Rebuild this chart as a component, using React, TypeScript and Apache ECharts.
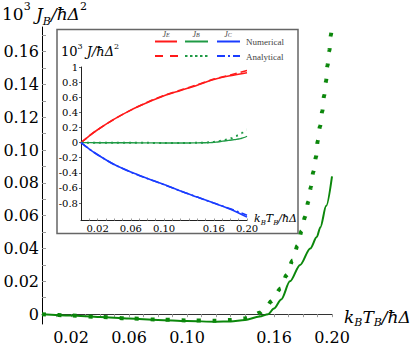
import React, { useEffect, useRef } from 'react';
import * as echarts from 'echarts';

// ---------- data ----------
// main panel: J_B (x: k_B T_B / ħΔ, y: 10^3 J_B / ħΔ^2)
const numBx = [0, 0.02, 0.04, 0.06, 0.08, 0.10, 0.12, 0.13, 0.14, 0.15, 0.156, 0.16, 0.165, 0.171, 0.178, 0.185, 0.1895, 0.192, 0.196, 0.2];
const numBy = [0, -0.0008, -0.0017, -0.0027, -0.0035, -0.0042, -0.0046, -0.0045, -0.0035, -0.0015, 0, 0.0035, 0.009, 0.02, 0.03, 0.04, 0.047, 0.053, 0.066, 0.084];
const anaBx = [0, 0.02, 0.04, 0.06, 0.08, 0.10, 0.12, 0.13, 0.14, 0.145, 0.15, 0.155, 0.158, 0.1648, 0.1687, 0.1729, 0.1763, 0.1791, 0.1814, 0.1837, 0.1855, 0.1871, 0.189, 0.1901, 0.1917, 0.1933, 0.1945, 0.1959, 0.1968, 0.1982, 0.1991, 0.1998];
const anaBy = [0, -0.0008, -0.0017, -0.0026, -0.0033, -0.0038, -0.004, -0.0036, -0.0026, -0.0015, 0.0008, 0.0045, 0.0078, 0.0158, 0.0238, 0.0328, 0.0418, 0.0508, 0.0593, 0.0687, 0.0777, 0.0867, 0.0959, 0.1053, 0.1143, 0.1236, 0.1329, 0.142, 0.1512, 0.1606, 0.1696, 0.174];

// inset: J_E, J_C (x: k_B T_B / ħΔ, y: 10^3 J / ħΔ^2)
const insetX = [0, 0.01, 0.02, 0.04, 0.06, 0.08, 0.10, 0.12, 0.14, 0.16, 0.18, 0.20];
const numE = [0, 0.09, 0.17, 0.31, 0.43, 0.53, 0.62, 0.69, 0.76, 0.835, 0.885, 0.925];
const anaE = [0, 0.09, 0.17, 0.31, 0.43, 0.535, 0.625, 0.695, 0.765, 0.84, 0.895, 0.955];
const numC = [0, -0.085, -0.16, -0.29, -0.39, -0.475, -0.555, -0.64, -0.72, -0.80, -0.88, -0.985];
const anaC = [0, -0.085, -0.16, -0.29, -0.39, -0.475, -0.555, -0.64, -0.72, -0.80, -0.875, -0.96];

// axes ticks / labels
const mainXLabels = [0.02, 0.06, 0.10, 0.16, 0.20];
const mainXTicks = [0.01, 0.02, 0.03, 0.04, 0.05, 0.06, 0.07, 0.08, 0.09, 0.10, 0.11, 0.12, 0.13, 0.14, 0.15, 0.16, 0.17, 0.18, 0.19, 0.20];
const mainYLabels = [0, 0.02, 0.04, 0.06, 0.08, 0.10, 0.12, 0.14, 0.16];
const mainYTicks = [0, 0.01, 0.02, 0.03, 0.04, 0.05, 0.06, 0.07, 0.08, 0.09, 0.10, 0.11, 0.12, 0.13, 0.14, 0.15, 0.16, 0.17];
const insetXLabels = [0.02, 0.06, 0.10, 0.16, 0.20];
const insetXTicks = [0.01, 0.02, 0.03, 0.04, 0.05, 0.06, 0.07, 0.08, 0.09, 0.10, 0.11, 0.12, 0.13, 0.14, 0.15, 0.16, 0.17, 0.18, 0.19, 0.20];
const insetYLabels = [-0.8, -0.6, -0.4, -0.2, 0, 0.2, 0.4, 0.6, 0.8, 1];

const zip = (xs: number[], ys: number[]) => xs.map((x, i) => [x, ys[i]]);

const SERIF = "'DejaVu Serif', serif";
const TIMES = "'Liberation Serif', serif";
const GREEN = '#0b870b';
const IGREEN = '#1f9a45';
const RED = '#ff1a1a';
const BLUE = '#1a3cff';

const fmt2 = (v: number) => (Math.abs(v) < 1e-9 ? '0' : v.toFixed(2));
const fmt1 = (v: number) => (Math.abs(v) < 1e-9 ? '0' : String(Number(v.toFixed(1))));

export default function App() {
  const ref = useRef<HTMLDivElement>(null);
  useEffect(() => {
    if (!ref.current) return;
    const chart = echarts.init(ref.current, undefined, { renderer: 'svg' });
    const mathRich = (size: number, small: number, lh: number) => ({
      n: { fontSize: size, fontFamily: SERIF, lineHeight: lh, verticalAlign: 'middle', fill: '#000' },
      i: { fontSize: size, fontFamily: SERIF, fontStyle: 'italic', lineHeight: lh, verticalAlign: 'middle', fill: '#000' },
      sp: { fontSize: small, fontFamily: SERIF, lineHeight: small + 2, verticalAlign: 'top', fill: '#000' },
      sb: { fontSize: small, fontFamily: SERIF, fontStyle: 'italic', lineHeight: small + 2, verticalAlign: 'bottom', fill: '#000' },
    });
    const legRich = {
      i: { fontSize: 8, fontStyle: 'italic', fontFamily: TIMES, fill: '#444' },
      s: { fontSize: 6, fontStyle: 'italic', fontFamily: TIMES, fill: '#444', verticalAlign: 'bottom' },
    };
    const option: any = {
      animation: false,
      grid: [
        { left: 42, right: 84, top: 27, bottom: 16 },
        { left: 81, right: 169, top: 67, bottom: 124.5 },
      ],
      xAxis: [
        {
          gridIndex: 0, type: 'value', min: 0, max: 0.2,
          axisLine: { onZero: true, lineStyle: { color: '#333', width: 1 } },
          axisTick: { show: true, customValues: mainXTicks, length: 3, lineStyle: { color: '#999' } },
          axisLabel: { customValues: mainXLabels, formatter: fmt2, fontFamily: SERIF, fontSize: 16, color: '#000', margin: 5 },
          splitLine: { show: false },
        },
        {
          gridIndex: 1, type: 'value', min: 0, max: 0.2,
          axisLine: { onZero: false, lineStyle: { color: '#222', width: 1 } },
          axisTick: { show: true, inside: true, customValues: insetXTicks, length: 2, lineStyle: { color: '#999' } },
          axisLabel: { customValues: insetXLabels, formatter: fmt2, fontFamily: SERIF, fontSize: 10, color: '#000', margin: 3 },
          splitLine: { show: false },
        },
      ],
      yAxis: [
        {
          gridIndex: 0, type: 'value', min: -0.006, max: 0.175,
          axisLine: { show: true, onZero: false, lineStyle: { color: '#000', width: 1 } },
          axisTick: { show: true, inside: true, customValues: mainYTicks, length: 4, lineStyle: { color: '#999' } },
          axisLabel: { customValues: mainYLabels, formatter: fmt2, fontFamily: SERIF, fontSize: 16, color: '#000', margin: 3 },
          splitLine: { show: false },
        },
        {
          gridIndex: 1, type: 'value', min: -1.03, max: 1,
          axisLine: { show: true, onZero: false, lineStyle: { color: '#222', width: 1 } },
          axisTick: { show: true, customValues: insetYLabels, length: 2, lineStyle: { color: '#666' } },
          axisLabel: { customValues: insetYLabels, formatter: fmt1, fontFamily: SERIF, fontSize: 10, color: '#000', margin: 3 },
          splitLine: { show: false },
        },
      ],
      series: [
        {
          type: 'line', xAxisIndex: 0, yAxisIndex: 0, data: zip(numBx, numBy), showSymbol: false,
          smooth: 0.3, smoothMonotone: 'x', lineStyle: { color: GREEN, width: 2 }, z: 3,
        },
        {
          type: 'line', xAxisIndex: 0, yAxisIndex: 0, data: zip(anaBx, anaBy), showSymbol: false,
          smooth: 0.3, smoothMonotone: 'x', lineStyle: { color: GREEN, width: 4, type: [4, 11.5], cap: 'butt' }, z: 3,
        },
        {
          type: 'line', xAxisIndex: 1, yAxisIndex: 1, data: zip(insetX, numE), showSymbol: false,
          smooth: 0.3, lineStyle: { color: RED, width: 1.6 }, z: 5,
        },
        {
          type: 'line', xAxisIndex: 1, yAxisIndex: 1, data: zip(insetX, anaE), showSymbol: false,
          smooth: 0.3, lineStyle: { color: RED, width: 1.6, type: [7, 4] }, z: 5,
        },
        {
          type: 'line', xAxisIndex: 1, yAxisIndex: 1, data: zip(numBx, numBy), showSymbol: false,
          smooth: 0.3, smoothMonotone: 'x', lineStyle: { color: IGREEN, width: 1.4 }, z: 5,
        },
        {
          type: 'line', xAxisIndex: 1, yAxisIndex: 1, data: zip(anaBx, anaBy), showSymbol: false,
          smooth: 0.3, smoothMonotone: 'x', lineStyle: { color: IGREEN, width: 2, type: [2, 4], cap: 'butt' }, z: 5,
        },
        {
          type: 'line', xAxisIndex: 1, yAxisIndex: 1, data: zip(insetX, numC), showSymbol: false,
          smooth: 0.3, lineStyle: { color: BLUE, width: 1.6 }, z: 5,
        },
        {
          type: 'line', xAxisIndex: 1, yAxisIndex: 1, data: zip(insetX, anaC), showSymbol: false,
          smooth: 0.3, lineStyle: { color: BLUE, width: 1.6, type: [8, 3, 2, 3] }, z: 5,
        },
      ],
      graphic: [
        {
          type: 'rect', z: 0, silent: true,
          shape: { x: 57, y: 29.5, width: 241, height: 204 },
          style: { fill: '#fff', stroke: '#666', lineWidth: 1.5 },
        },
        {
          type: 'text', left: 2, top: 1, z: 10,
          style: { text: '{n|10}{sp|3}{i| J}{sb|B}{i|/ħΔ}{sp|2}', rich: mathRich(17, 11, 26) },
        },
        {
          type: 'text', x: 344, y: 305, z: 10,
          style: { text: '{i|k}{sb|B}{i|T}{sb|B}{i|/ħΔ}', rich: mathRich(17, 11, 23) },
        },
        {
          type: 'text', x: 61, y: 42, z: 10,
          style: { text: '{n|10}{sp|3}{i| J/ħΔ}{sp|2}', rich: mathRich(13, 8, 19) },
        },
        {
          type: 'text', x: 254, y: 211, z: 10,
          style: { text: '{i|k}{sb|B}{i|T}{sb|B}{i|/ħΔ}', rich: mathRich(11, 7, 15) },
        },
        // legend row 1 (Numerical)
        { type: 'line', z: 10, shape: { x1: 155, y1: 41.5, x2: 177, y2: 41.5 }, style: { stroke: RED, lineWidth: 2 } },
        { type: 'line', z: 10, shape: { x1: 185, y1: 41.5, x2: 208, y2: 41.5 }, style: { stroke: IGREEN, lineWidth: 2 } },
        { type: 'line', z: 10, shape: { x1: 217, y1: 41.5, x2: 240, y2: 41.5 }, style: { stroke: BLUE, lineWidth: 2 } },
        { type: 'text', z: 10, x: 166, y: 38, style: { text: '{i|J}{s|E}', align: 'center', verticalAlign: 'bottom', rich: legRich } },
        { type: 'text', z: 10, x: 196, y: 38, style: { text: '{i|J}{s|B}', align: 'center', verticalAlign: 'bottom', rich: legRich } },
        { type: 'text', z: 10, x: 228, y: 38, style: { text: '{i|J}{s|C}', align: 'center', verticalAlign: 'bottom', rich: legRich } },
        { type: 'text', z: 10, x: 246, y: 42, style: { text: 'Numerical', fontSize: 9, fontFamily: TIMES, fill: '#444', verticalAlign: 'middle' } },
        // legend row 2 (Analytical)
        { type: 'line', z: 10, shape: { x1: 155, y1: 56, x2: 178, y2: 56 }, style: { stroke: RED, lineWidth: 2, lineDash: [8, 7] } },
        { type: 'line', z: 10, shape: { x1: 185, y1: 56, x2: 209, y2: 56 }, style: { stroke: IGREEN, lineWidth: 2, lineDash: [2.5, 2.5] } },
        { type: 'line', z: 10, shape: { x1: 217, y1: 56, x2: 240, y2: 56 }, style: { stroke: BLUE, lineWidth: 2, lineDash: [8, 3, 2, 3] } },
        { type: 'text', z: 10, x: 246, y: 56.5, style: { text: 'Analytical', fontSize: 9, fontFamily: TIMES, fill: '#444', verticalAlign: 'middle' } },
      ],
    };
    chart.setOption(option);
    return () => chart.dispose();
  }, []);
  return <div ref={ref} style={{ width: 416, height: 345, position: 'absolute', left: 0, top: 0, background: '#fff' }} />;
}
